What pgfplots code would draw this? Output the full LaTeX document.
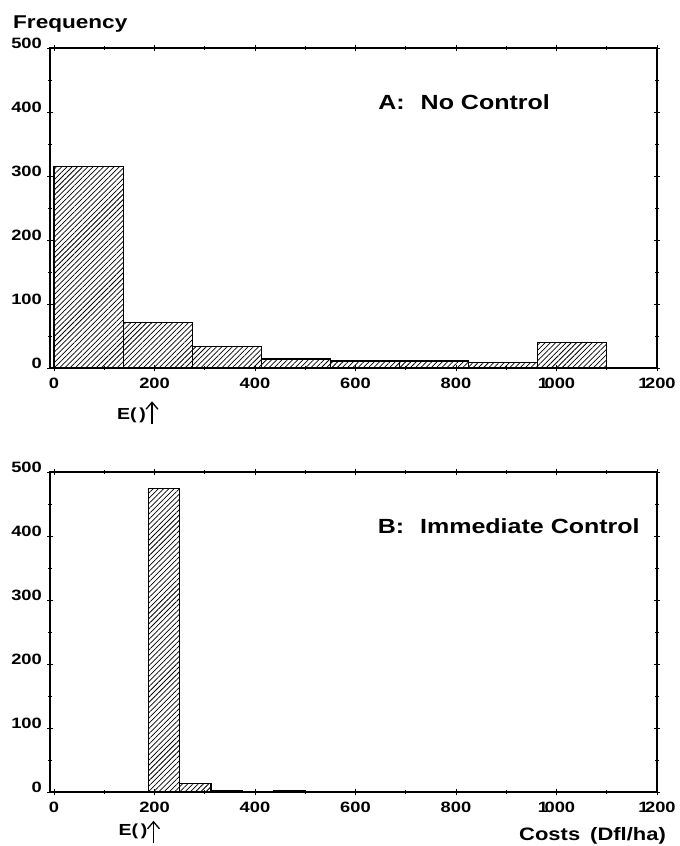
\documentclass[border=0pt]{standalone}
\usepackage{pgfplots}
\pgfplotsset{compat=1.18}
\usepackage{fontspec}
\setmainfont{Liberation Sans}
\newfontfamily\lab{Liberation Sans}[FakeStretch=1.22]
\usetikzlibrary{patterns.meta,arrows.meta}

\pgfplotsset{
  histo/.style={
    scale only axis,
    width=607pt, height=320pt,
    xmin=-8, xmax=1200, ymin=0, ymax=500,
    xtick={0,200,...,1200}, minor x tick num=1,
    xticklabels={0,200,400,600,800,1\kern-3.5pt000,1\kern-3.5pt200},
    ytick={0,100,...,500}, minor y tick num=1,
    tick align=center,
    major tick length=6pt, minor tick length=4pt,
    axis line style={line width=1.3pt},
    every tick/.style={black, line width=0.9pt},
    tick label style={font=\lab\bfseries\fontsize{15}{17}\selectfont},
    /pgf/number format/assume math mode=true,
    /pgf/number format/set thousands separator={},
    yticklabel style={anchor=base east, inner sep=1pt, xshift=-4pt},
    xticklabel style={yshift=-3pt},
    clip=false,
  },
  hatch/.style={draw=black, line width=1.1pt,
    pattern={Lines[angle=45,distance=3.7pt,line width=0.75pt]}},
}

\begin{document}
\begin{tikzpicture}
\useasboundingbox (0,0) rectangle (680pt,-846pt);

\node[anchor=base west, inner sep=0pt, font=\lab\bfseries\fontsize{18.5}{20}\selectfont] at (13pt,-28pt) {Frequency};

% Panel A
\begin{axis}[histo, at={(50pt,-48pt)}, anchor=north west]
\addplot[ybar interval, hatch] coordinates {
  (0,315) (137.5,71) (275,33) (412.5,14) (550,11) (687.5,11) (825,9) (962.5,40) (1100,40)
};
\node[anchor=base west, inner sep=0pt, font=\lab\bfseries\fontsize{20.5}{22}\selectfont]
  at (axis cs:645,404) {A:\hspace{16pt}No Control};
\node[anchor=east, inner sep=0pt, font=\lab\bfseries\fontsize{16}{18}\selectfont]
  at (axis cs:183,-74) {E(\,)};
\draw[line width=1.3pt, -{Straight Barb[length=7pt,width=12pt]}]
  (axis cs:195,-87) -- (axis cs:195,-52);
\end{axis}

% Panel B
\begin{axis}[histo, at={(50pt,-472pt)}, anchor=north west]
\addplot[ybar interval, hatch] coordinates {
  (187.5,474) (250,13) (312.5,2) (375,0) (437.5,3) (500,3)
};
\node[anchor=base east, inner sep=0pt, font=\lab\bfseries\fontsize{20.5}{22}\selectfont]
  at (axis cs:1166,404) {B:\hspace{16pt}Immediate Control};
\node[anchor=east, inner sep=0pt, font=\lab\bfseries\fontsize{16}{18}\selectfont]
  at (axis cs:186,-61) {E(\,)};
\draw[line width=1.3pt, -{Straight Barb[length=7pt,width=12pt]}]
  (axis cs:198,-80) -- (axis cs:198,-45);
\node[anchor=base east, inner sep=0pt, font=\lab\bfseries\fontsize{18}{20}\selectfont]
  at (axis cs:1218,-76) {Costs\hspace{10pt}(Dfl/ha)};
\end{axis}
\end{tikzpicture}
\end{document}
